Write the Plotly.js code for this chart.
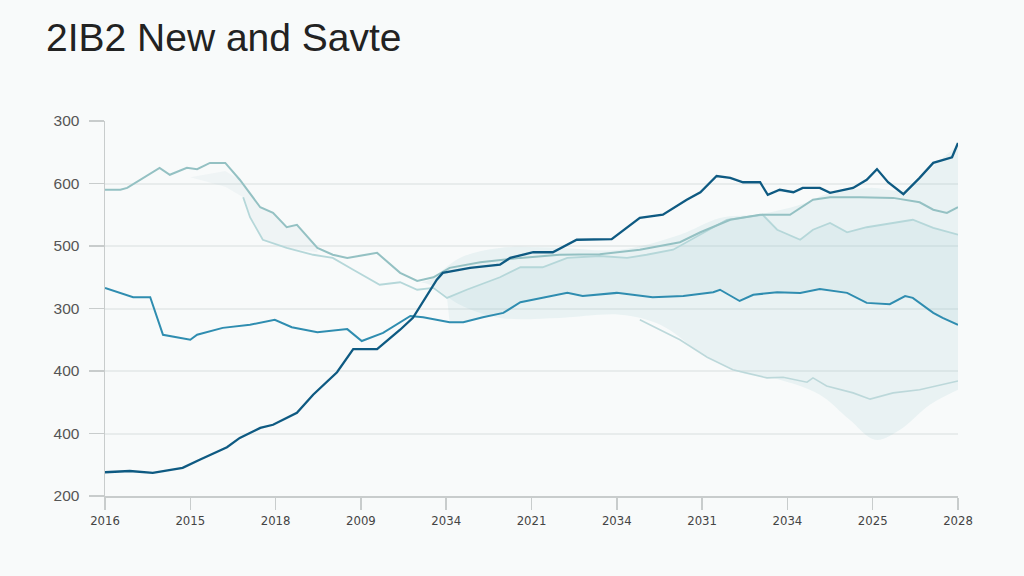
<!DOCTYPE html>
<html>
<head>
<meta charset="utf-8">
<script src="https://cdn.plot.ly/plotly-3.0.1.min.js"></script>
<style>html,body{margin:0;padding:0;background:#f8fafa;}#chart{width:1024px;height:576px;}</style>
</head>
<body>
<div id="chart"></div>
<script>
// Tick labels (as printed in the reference)
const xTickVals = [0,1,2,3,4,5,6,7,8,9,10];
const xTickText = ["2016","2015","2018","2009","2034","2021","2034","2031","2034","2025","2028"];
const yTickVals = [0,1,2,3,4,5,6];
const yTickText = ["200","400","400","300","500","600","300"];

// Series (x in tick-position units, y in gridline units)
const darkX = [0,0.29,0.56,0.91,1.11,1.43,1.58,1.82,1.97,2.25,2.44,2.72,2.91,3.19,3.46,3.61,3.89,3.96,4.28,4.63,4.75,5.02,5.25,5.53,5.94,6.27,6.54,6.82,6.98,7.17,7.33,7.48,7.68,7.77,7.91,8.07,8.18,8.38,8.50,8.77,8.93,9.05,9.18,9.36,9.55,9.71,9.93,10];
const darkY = [0.38,0.40,0.37,0.45,0.58,0.78,0.93,1.09,1.14,1.33,1.62,1.98,2.35,2.35,2.66,2.85,3.46,3.57,3.65,3.70,3.81,3.90,3.90,4.10,4.11,4.45,4.50,4.74,4.86,5.12,5.09,5.02,5.02,4.82,4.90,4.86,4.93,4.93,4.85,4.93,5.06,5.23,5.02,4.83,5.09,5.33,5.42,5.65];

const tealX = [0,0.33,0.53,0.68,1.00,1.08,1.38,1.70,1.99,2.19,2.49,2.84,3.01,3.26,3.58,3.73,4.04,4.20,4.43,4.67,4.87,5.18,5.42,5.60,6.00,6.42,6.78,7.13,7.21,7.44,7.60,7.88,8.15,8.38,8.70,8.93,9.20,9.38,9.47,9.71,9.82,10];
const tealY = [3.33,3.18,3.18,2.58,2.50,2.58,2.69,2.74,2.82,2.70,2.62,2.67,2.48,2.61,2.88,2.86,2.78,2.78,2.86,2.93,3.10,3.18,3.25,3.20,3.25,3.18,3.20,3.26,3.30,3.12,3.22,3.26,3.25,3.31,3.25,3.09,3.07,3.20,3.17,2.93,2.85,2.74];

const lightX = [0,0.18,0.26,0.41,0.64,0.76,0.96,1.08,1.23,1.41,1.58,1.82,1.97,2.13,2.25,2.49,2.67,2.84,2.99,3.19,3.46,3.66,3.85,4.04,4.40,4.87,5.33,5.80,6.27,6.74,6.98,7.33,7.68,8.03,8.30,8.50,8.85,9.24,9.55,9.71,9.87,10];
const lightY = [4.90,4.90,4.93,5.06,5.25,5.14,5.25,5.23,5.33,5.33,5.06,4.62,4.53,4.30,4.34,3.97,3.86,3.81,3.84,3.89,3.57,3.44,3.50,3.65,3.74,3.81,3.86,3.87,3.94,4.06,4.22,4.42,4.50,4.50,4.74,4.78,4.78,4.77,4.70,4.58,4.53,4.62];

const paleX = [1.62,1.70,1.85,2.13,2.44,2.67,2.91,3.22,3.46,3.66,3.85,4.01,4.24,4.63,4.87,5.13,5.42,5.80,6.12,6.35,6.66,6.98,7.29,7.71,7.88,8.15,8.30,8.50,8.70,8.93,9.47,9.71,10];
const paleY = [4.78,4.46,4.10,3.97,3.86,3.81,3.62,3.38,3.42,3.30,3.33,3.17,3.30,3.50,3.66,3.66,3.81,3.84,3.81,3.86,3.94,4.18,4.42,4.50,4.26,4.10,4.26,4.37,4.22,4.30,4.42,4.29,4.18];

const lowX = [6.27,6.74,7.06,7.36,7.76,7.95,8.23,8.30,8.46,8.77,8.97,9.24,9.55,10];
const lowY = [2.82,2.50,2.22,2.02,1.89,1.90,1.82,1.89,1.76,1.65,1.55,1.65,1.70,1.84];

// Shaded band boundaries
const bandTopX = [3.70,3.81,4.16,4.63,5.33,6.04,6.74,7.21,7.68,8.15,8.50,8.97,9.38,9.73,10];
const bandTopY = [3.42,3.46,3.81,3.97,3.97,3.94,4.18,4.45,4.51,4.66,4.85,4.93,4.90,5.30,5.62];
const bandLowX = [3.70,3.81,4.16,4.63,5.33,6.04,6.51,6.98,7.44,7.91,8.38,8.73,9.03,9.32,9.67,10];
const bandLowY = [3.42,3.38,3.06,2.85,2.85,2.90,2.74,2.30,1.98,1.86,1.62,1.22,0.90,1.06,1.46,1.70];

// faint early shading
const earlyTopX = [1.00,1.41,1.58,1.82,1.97,2.13,2.25,2.49];
const earlyTopY = [5.10,5.20,5.06,4.62,4.53,4.30,4.34,3.97];
const earlyLowX = [1.00,1.41,1.62,1.70,1.85,2.13,2.49];
const earlyLowY = [5.10,4.95,4.78,4.46,4.10,3.97,3.90];

// inner band: between teal line and pale line over the right part
const innerLowX = tealX.filter(v => v >= 4.0);
const innerLowY = tealY.filter((v, i) => tealX[i] >= 4.0);
const innerTopX = paleX.filter(v => v >= 4.0);
const innerTopY = paleY.filter((v, i) => paleX[i] >= 4.0);

const traces = [
  {x: earlyLowX, y: earlyLowY, mode: 'lines', line: {width: 0, color: 'rgba(0,0,0,0)'}, showlegend: false, hoverinfo: 'skip'},
  {x: earlyTopX, y: earlyTopY, mode: 'lines', line: {width: 0, color: 'rgba(0,0,0,0)'}, fill: 'tonexty', fillcolor: 'rgba(170,200,205,0.10)', showlegend: false, hoverinfo: 'skip'},
  {x: bandLowX, y: bandLowY, mode: 'lines', line: {width: 0, shape: 'spline', color: 'rgba(0,0,0,0)'}, showlegend: false, hoverinfo: 'skip'},
  {x: bandTopX, y: bandTopY, mode: 'lines', line: {width: 0, shape: 'spline', color: 'rgba(0,0,0,0)'}, fill: 'tonexty', fillcolor: 'rgba(150,200,208,0.15)', showlegend: false, hoverinfo: 'skip'},
  {x: innerLowX, y: innerLowY, mode: 'lines', line: {width: 0, color: 'rgba(0,0,0,0)'}, showlegend: false, hoverinfo: 'skip'},
  {x: innerTopX, y: innerTopY, mode: 'lines', line: {width: 0, color: 'rgba(0,0,0,0)'}, fill: 'tonexty', fillcolor: 'rgba(150,200,208,0.12)', showlegend: false, hoverinfo: 'skip'},
  {x: lowX, y: lowY, mode: 'lines', line: {color: '#bcd8da', width: 1.6}, showlegend: false},
  {x: paleX, y: paleY, mode: 'lines', line: {color: '#b5d7d9', width: 1.8}, showlegend: false},
  {x: lightX, y: lightY, mode: 'lines', line: {color: '#94c1c3', width: 2}, showlegend: false},
  {x: tealX, y: tealY, mode: 'lines', line: {color: '#2f8db0', width: 2}, showlegend: false},
  {x: darkX, y: darkY, mode: 'lines', line: {color: '#0e5a82', width: 2.3}, showlegend: false}
];

const layout = {
  width: 1024, height: 576,
  paper_bgcolor: '#f8fafa', plot_bgcolor: '#f8fafa',
  margin: {l: 105, r: 66, t: 121, b: 80},
  showlegend: false,
  hovermode: false,
  title: {
    text: '2IB2 New and Savte',
    font: {family: 'Liberation Sans, Arial, sans-serif', size: 39, color: '#222222'},
    x: 46/1024, xref: 'container', xanchor: 'left',
    y: 1 - 37/576, yref: 'container', yanchor: 'middle'
  },
  xaxis: {
    range: [0, 10], tickmode: 'array', tickvals: xTickVals, ticktext: xTickText,
    showgrid: false, zeroline: false,
    showline: true, linecolor: '#c8cccc', linewidth: 1.5,
    ticks: 'outside', ticklen: 12, tickcolor: '#c8cccc', tickwidth: 1.5,
    tickfont: {family: 'DejaVu Sans Condensed, Liberation Sans Narrow, sans-serif', size: 13, color: '#444'}
  },
  yaxis: {
    range: [0, 6], tickmode: 'array', tickvals: yTickVals, ticktext: yTickText,
    showgrid: true, gridcolor: '#e8ecec', gridwidth: 2, zeroline: false,
    showline: true, linecolor: '#c8cccc', linewidth: 1.5,
    ticks: 'outside', ticklen: 15, tickcolor: '#c8cccc', tickwidth: 1.5,
    ticklabelstandoff: 6,
    tickfont: {family: 'Liberation Sans, Arial, sans-serif', size: 15.5, color: '#555'}
  }
};

Plotly.newPlot('chart', traces, layout, {staticPlot: true, displayModeBar: false});
</script>
</body>
</html>
